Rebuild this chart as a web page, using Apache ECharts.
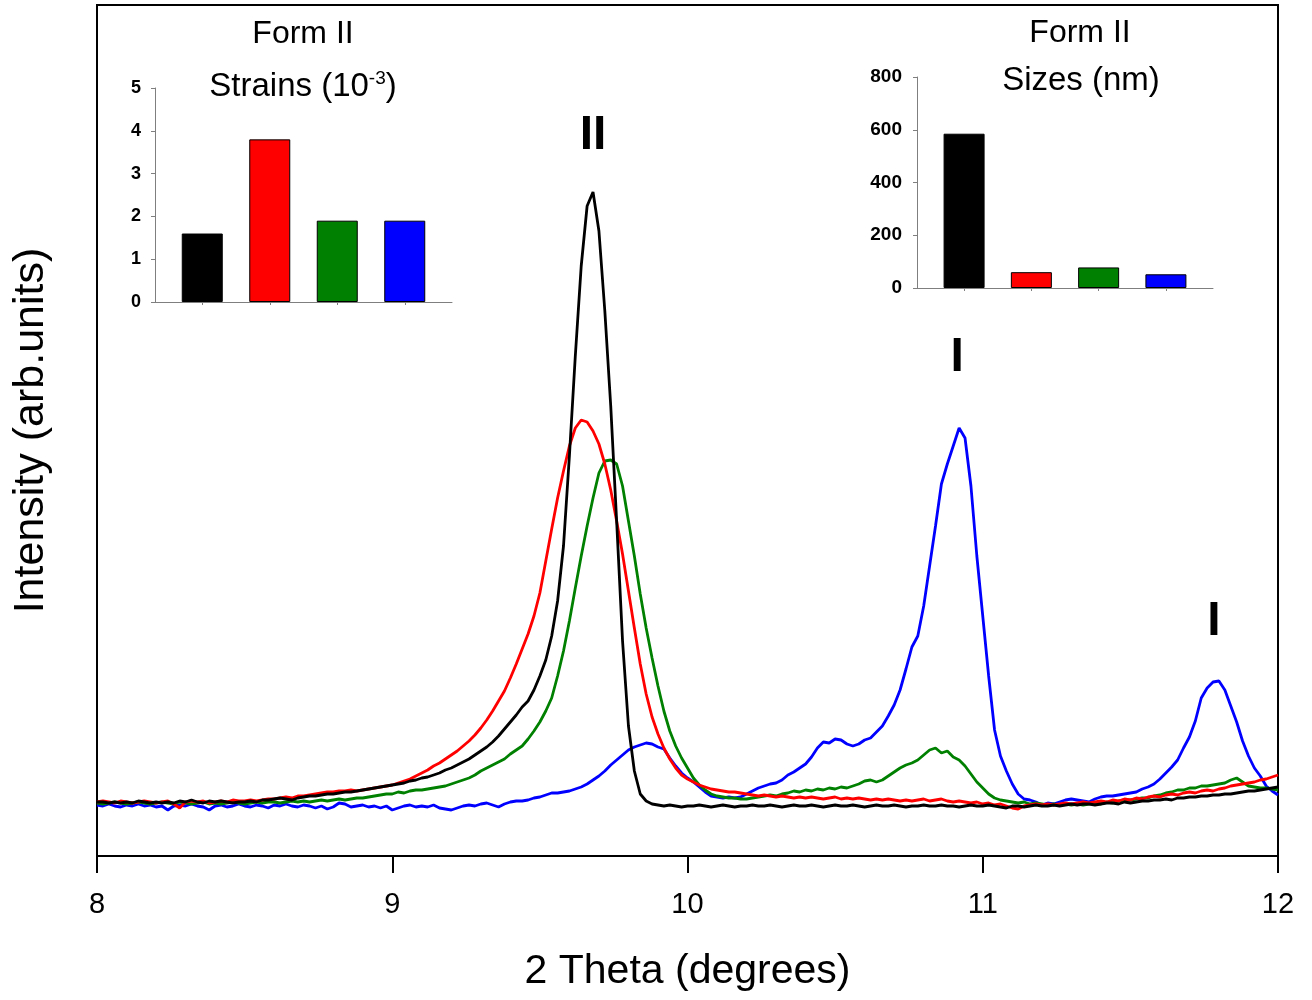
<!DOCTYPE html>
<html>
<head>
<meta charset="utf-8">
<script src="https://cdn.jsdelivr.net/npm/echarts@6/dist/echarts.min.js"></script>
<style>html,body{margin:0;padding:0;background:#fff}#chart{width:1312px;height:1000px}</style>
</head>
<body>
<div id="chart"></div>
<script>
// ---- 2 Theta sampling positions (degrees) ----
const twoTheta = [
8.00,8.02,8.04,8.06,8.08,8.10,8.12,8.14,8.16,8.18,
8.20,8.22,8.24,8.26,8.28,8.30,8.32,8.34,8.36,8.38,
8.40,8.42,8.44,8.46,8.48,8.50,8.52,8.54,8.56,8.58,
8.60,8.62,8.64,8.66,8.68,8.70,8.72,8.74,8.76,8.78,
8.80,8.82,8.84,8.86,8.88,8.90,8.92,8.94,8.96,8.98,
9.00,9.02,9.04,9.06,9.08,9.10,9.12,9.14,9.16,9.18,
9.20,9.22,9.24,9.26,9.28,9.30,9.32,9.34,9.36,9.38,
9.40,9.42,9.44,9.46,9.48,9.50,9.52,9.54,9.56,9.58,
9.60,9.62,9.64,9.66,9.68,9.70,9.72,9.74,9.76,9.78,
9.80,9.82,9.84,9.86,9.88,9.90,9.92,9.94,9.96,9.98,
10.00,10.02,10.04,10.06,10.08,10.10,10.12,10.14,10.16,10.18,
10.20,10.22,10.24,10.26,10.28,10.30,10.32,10.34,10.36,10.38,
10.40,10.42,10.44,10.46,10.48,10.50,10.52,10.54,10.56,10.58,
10.60,10.62,10.64,10.66,10.68,10.70,10.72,10.74,10.76,10.78,
10.80,10.82,10.84,10.86,10.88,10.90,10.92,10.94,10.96,10.98,
11.00,11.02,11.04,11.06,11.08,11.10,11.12,11.14,11.16,11.18,
11.20,11.22,11.24,11.26,11.28,11.30,11.32,11.34,11.36,11.38,
11.40,11.42,11.44,11.46,11.48,11.50,11.52,11.54,11.56,11.58,
11.60,11.62,11.64,11.66,11.68,11.70,11.72,11.74,11.76,11.78,
11.80,11.82,11.84,11.86,11.88,11.90,11.92,11.94,11.96,11.98,
12.00];

// ---- Intensities (arb. units) ----
const intensityBlack = [
54,54,53,54,53,54,53,55,54,53,
54,53,54,53,55,54,56,54,53,55,
54,55,54,53,54,54,55,54,56,56,
57,58,57,56,58,59,60,60,61,62,
62,63,64,64,65,66,67,68,69,70,
71,72,73,75,76,78,79,81,83,86,
88,91,94,97,101,105,109,114,120,127,
134,141,149,155,166,180,196,220,255,310,
400,500,590,650,664,625,545,450,335,215,
130,85,62,55,52,51,50,51,50,49,
50,50,51,50,49,50,51,50,49,50,
50,51,50,50,51,50,49,50,51,50,
50,51,50,49,50,51,50,50,51,50,
49,50,51,50,50,51,50,49,50,50,
51,50,50,51,50,50,49,50,51,50,
50,51,50,49,48,50,50,49,50,51,
50,50,51,50,51,52,51,52,52,51,
52,53,53,52,54,53,54,55,55,56,
56,57,56,58,58,59,59,60,60,61,
61,62,62,63,64,65,65,66,67,68,
69];

const intensityRed = [
54,55,54,53,55,54,53,54,55,54,
53,54,55,52,48,54,55,54,55,53,
54,55,54,56,55,55,56,55,56,57,
57,58,59,58,60,60,61,62,63,64,
64,65,65,66,65,66,67,68,69,70,
71,73,75,77,80,83,86,90,93,97,
101,105,110,115,121,128,136,145,155,165,
178,192,207,222,240,263,295,327,358,385,
410,428,436,434,425,412,392,366,335,302,
265,228,192,162,139,122,108,97,88,81,
77,74,71,69,67,66,65,64,64,63,
62,61,60,61,60,59,60,59,58,59,
58,59,58,57,58,59,57,58,57,58,
57,56,57,56,57,56,55,56,55,56,
57,55,56,57,55,54,55,54,53,54,
52,53,51,52,50,48,47,50,51,52,
51,52,51,52,53,52,53,54,53,54,
55,54,56,55,57,56,58,57,59,60,
59,61,62,61,63,64,63,65,66,65,
67,68,70,71,72,73,74,76,77,79,
81];

const intensityGreen = [
53,52,53,54,53,52,53,54,53,52,
53,54,53,52,54,53,52,53,54,52,
53,52,53,54,53,52,53,54,53,54,
54,53,54,55,54,55,54,55,56,55,
56,57,56,57,58,58,59,60,61,62,
62,64,63,65,66,66,67,68,69,70,
72,74,76,78,81,85,88,91,94,97,
102,106,110,117,125,134,145,158,180,205,
235,268,300,330,358,383,395,396,392,370,
335,300,262,228,198,170,145,125,110,98,
88,78,71,66,62,60,59,58,58,57,
57,58,59,60,61,60,62,63,65,64,
66,65,67,66,68,67,69,68,70,72,
75,76,74,76,80,84,88,91,93,96,
101,106,108,103,105,99,96,90,82,74,
68,62,58,56,55,54,53,54,52,53,
52,51,52,51,52,51,52,51,52,53,
52,54,53,55,56,56,57,58,58,60,
61,63,64,66,66,68,68,70,70,71,
72,73,76,78,74,70,69,68,68,67,
66];

const intensityBlue = [
51,50,52,50,49,51,50,52,50,51,
49,50,46,50,51,50,52,50,49,46,
50,51,49,50,52,50,49,51,50,48,
51,50,52,50,49,51,50,48,50,47,
49,53,52,49,50,51,49,50,48,50,
46,48,50,51,49,50,49,51,48,47,
46,48,50,51,50,52,53,51,49,52,
54,55,55,56,58,59,61,63,63,64,
65,67,69,72,76,80,85,91,96,101,
106,109,111,113,112,109,107,98,90,83,
78,74,69,64,60,59,58,59,58,59,
62,65,68,70,72,73,76,81,84,88,
92,99,108,114,113,117,116,112,110,112,
116,118,124,130,140,151,166,187,209,220,
250,290,330,372,392,410,428,418,370,300,
240,180,126,100,85,72,62,57,56,54,
51,53,52,54,56,57,56,55,54,57,
59,60,60,61,62,63,64,67,69,72,
77,83,89,96,108,119,135,158,168,174,
175,166,150,134,115,100,88,80,70,65,
61];

// ---- Peak annotations ----
const peakLabels = ['II', 'I', 'I'];
const peakTwoTheta = [9.68, 10.913, 11.783];
const peakIntensity = [720, 498, 234];

// ---- Inset bar charts ----
const sampleNames = ['Black', 'Red', 'Green', 'Blue'];
const sampleColors = ['#000000', '#ff0000', '#008000', '#0000ff'];
const strainValues = [1.6, 3.8, 1.9, 1.9];   // 10^-3
const sizeValues = [585, 60, 78, 52];        // nm
const barSlots = [1, 2, 3, 4];

const FONT = '"Liberation Sans", Arial, Helvetica, sans-serif';
const chart = echarts.init(document.getElementById('chart'), null, {renderer: 'canvas'});

const toPairs = arr => twoTheta.map((t, i) => [t, arr[i]]);
const lineSeries = (name, arr, color) => ({
  name, type: 'line', xAxisIndex: 0, yAxisIndex: 0,
  data: toPairs(arr), showSymbol: false, symbol: 'none',
  lineStyle: {color, width: 2.8}, itemStyle: {color},
  silent: true, animation: false
});
const barSeries = (values, axisIdx) => ({
  type: 'bar', xAxisIndex: axisIdx, yAxisIndex: axisIdx, barWidth: 41,
  data: values.map((v, i) => ({value: [barSlots[i], v], itemStyle: {color: sampleColors[i]}})),
  itemStyle: {borderColor: '#000', borderWidth: 1},
  silent: true
});
const insetX = idx => ({
  gridIndex: idx, type: 'value', min: 0.3, max: 4.7,
  axisLine: {show: true, onZero: false, lineStyle: {color: '#7f7f7f', width: 1}},
  axisTick: {show: true, customValues: barSlots, length: 3, lineStyle: {color: '#7f7f7f'}},
  axisLabel: {show: false}, splitLine: {show: false}
});

const option = {
  animation: false,
  backgroundColor: '#ffffff',
  grid: [
    {left: 97, right: 34, top: 5, bottom: 144, show: true, borderColor: '#000', borderWidth: 2, backgroundColor: 'transparent'},
    {left: 155, top: 88, width: 297, height: 214},
    {left: 917, top: 77, width: 296, height: 211}
  ],
  xAxis: [
    {
      gridIndex: 0, type: 'value', min: 8, max: 12, interval: 1,
      axisLine: {show: true, onZero: false, lineStyle: {color: '#000', width: 2}},
      axisTick: {show: true, inside: false, length: 17, lineStyle: {color: '#000', width: 2}},
      axisLabel: {fontSize: 29, color: '#000', margin: 34, fontFamily: FONT},
      splitLine: {show: false},
      name: '2 Theta (degrees)', nameLocation: 'middle', nameGap: 95,
      nameTextStyle: {fontSize: 41, color: '#000', fontFamily: FONT}
    },
    insetX(1),
    insetX(2)
  ],
  yAxis: [
    {
      gridIndex: 0, type: 'value', min: 0, max: 851,
      axisLine: {show: true, onZero: false, lineStyle: {color: '#000', width: 2}},
      axisTick: {show: false}, axisLabel: {show: false}, splitLine: {show: false},
      name: 'Intensity (arb.units)', nameLocation: 'middle', nameGap: 44,
      nameTextStyle: {fontSize: 43, color: '#000', fontFamily: FONT}
    },
    {
      gridIndex: 1, type: 'value', min: 0, max: 5, interval: 1,
      axisLine: {show: true, lineStyle: {color: '#7f7f7f', width: 1}},
      axisTick: {show: true, length: 4, lineStyle: {color: '#7f7f7f'}},
      axisLabel: {fontSize: 18, fontWeight: 'bold', color: '#000', margin: 14, fontFamily: FONT},
      splitLine: {show: false}
    },
    {
      gridIndex: 2, type: 'value', min: 0, max: 800, interval: 200,
      axisLine: {show: true, lineStyle: {color: '#7f7f7f', width: 1}},
      axisTick: {show: true, length: 4, lineStyle: {color: '#7f7f7f'}},
      axisLabel: {fontSize: 19, fontWeight: 'bold', color: '#000', margin: 15, fontFamily: FONT},
      splitLine: {show: false}
    }
  ],
  series: [
    lineSeries(sampleNames[3], intensityBlue, sampleColors[3]),
    lineSeries(sampleNames[2], intensityGreen, sampleColors[2]),
    lineSeries(sampleNames[1], intensityRed, sampleColors[1]),
    lineSeries(sampleNames[0], intensityBlack, sampleColors[0]),
    {
      type: 'scatter', xAxisIndex: 0, yAxisIndex: 0, silent: true,
      symbolSize: 0, itemStyle: {color: '#000', opacity: 1},
      data: peakLabels.map((t, i) => [peakTwoTheta[i], peakIntensity[i], t]),
      label: {show: true, position: 'inside', formatter: p => p.data[2],
        fontSize: 48, fontWeight: 'bold', color: '#000', opacity: 1,
        textBorderWidth: 0, textShadowBlur: 0, fontFamily: FONT}
    },
    barSeries(strainValues, 1),
    barSeries(sizeValues, 2)
  ],
  graphic: [
    {type: 'text', x: 303, y: 34, silent: true,
      style: {text: 'Form II', fill: '#000', font: '32px ' + FONT, textAlign: 'center', textVerticalAlign: 'middle'}},
    {type: 'text', x: 303, y: 87, silent: true,
      style: {text: '{n|Strains (10}{s|-3}{n|)}', fill: '#000', textAlign: 'center', textVerticalAlign: 'middle',
        rich: {n: {fontSize: 33, fontFamily: FONT, fill: '#000', lineHeight: 36},
               s: {fontSize: 19, fontFamily: FONT, fill: '#000', verticalAlign: 'top', lineHeight: 20}}}},
    {type: 'text', x: 1080, y: 33, silent: true,
      style: {text: 'Form II', fill: '#000', font: '32px ' + FONT, textAlign: 'center', textVerticalAlign: 'middle'}},
    {type: 'text', x: 1081, y: 81, silent: true,
      style: {text: 'Sizes (nm)', fill: '#000', font: '33px ' + FONT, textAlign: 'center', textVerticalAlign: 'middle'}}
  ]
};
chart.setOption(option);
</script>
</body>
</html>
